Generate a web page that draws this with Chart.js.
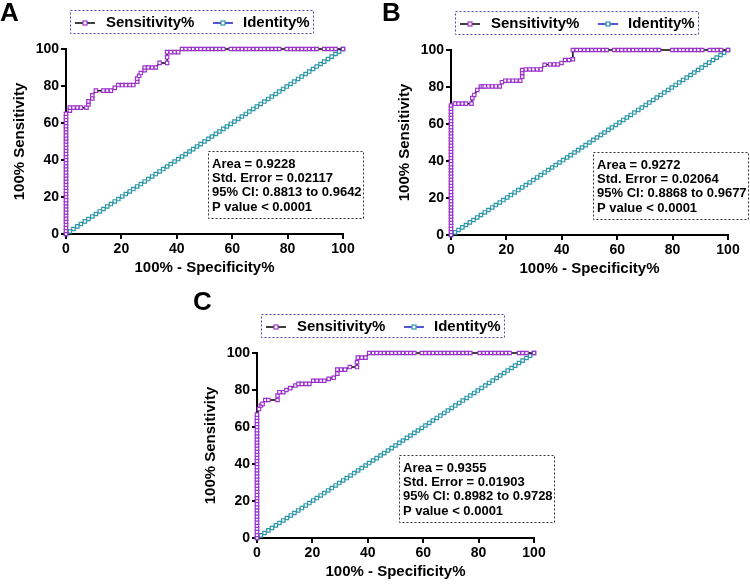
<!DOCTYPE html>
<html>
<head>
<meta charset="utf-8">
<script src="https://cdn.jsdelivr.net/npm/chart.js@4.4.0/dist/chart.umd.min.js"></script>
<style>
    html, body { margin: 0; padding: 0; background: #fff; overflow: hidden; width: 750px; height: 584px; position: relative; }
    canvas { position: absolute; }
</style>
</head>
<body>
<canvas id="chartA" width="375" height="300" style="left:-10px; top:-20px;"></canvas>
<canvas id="chartB" width="375" height="300" style="left:375px; top:-19px;"></canvas>
<canvas id="chartC" width="375" height="300" style="left:181px; top:284px;"></canvas>
<script>
// ---- data ----
const tickValues = [0, 20, 40, 60, 80, 100];

// identity line (x = y) points
const identityPct = [0,1.4,2.7,4.1,5.4,6.8,8.1,9.5,10.8,12.2,13.5,14.9,16.2,17.6,18.9,20.3,21.6,23,24.3,25.7,
    27,28.4,29.7,31.1,32.4,33.8,35.1,36.5,37.8,39.2,40.5,41.9,43.2,44.6,45.9,47.3,48.6,50,51.4,52.7,
    54.1,55.4,56.8,58.1,59.5,60.8,62.2,63.5,64.9,66.2,67.6,68.9,70.3,71.6,73,74.3,75.7,77,78.4,79.7,
    81.1,82.4,83.8,85.1,86.5,87.8,89.2,90.5,91.9,93.2,94.6,95.9,97.3,98.6,100];

// A: sensitivity at 0% (vertical run), middle steps, then 1-spec values at 100% sensitivity
const colSensA = [0,1.7,3.3,5,6.7,8.3,10,11.7,13.3,15,16.7,18.3,20,21.7,23.3,25,26.7,28.3,30,31.7,
    33.3,35,36.7,38.3,40,41.7,43.3,45,46.7,48.3,50,51.7,53.3,55,56.7,58.3,60,61.7,63.3,65];
const fprA  = [1.4,1.4,2.7,4.1,5.4, 7.4,8.1,8.1,9.5,9.5,10.8, 13.5,14.9,16.2, 17.6,18.9, 20.3,21.6,23,24.3,
    25.7,25.7,26.4,27,28.4,28.4, 29.7,31.1,32.4, 33.8, 36.5,36.5,36.5, 37.8,39.2,40.5];
const sensA = [66.7,68.3,68.3,68.3,68.3, 68.3,70,71.7,73.3,75,77.5, 77.5,77.5,77.5, 79,80.5, 80.5,80.5,80.5,80.5,
    82.3,84,85.5,87,88.5,90, 90,90,90, 92.5, 92.5,95.5,98.3, 98.3,98.3,98.3];
const fullFprA = [41.9,43.2,44.6,45.9,47.3,48.6,50,51.4,52.7,54.1,55.4,56.8,
    59.5,60.8,62.2,63.5,64.9,66.2,67.6,68.9,70.3,71.6,73,74.3,75.7,77,
    79.7,81.1,82.4,83.8,85.1,86.5,87.8,89.2,90.5, 93.2,94.6,95.9,97.3, 100];

// B
const colSensB = [0,1.7,3.3,5,6.7,8.3,10,11.7,13.3,15,16.7,18.3,20,21.7,23.3,25,26.7,28.3,30,31.7,
    33.3,35,36.7,38.3,40,41.7,43.3,45,46.7,48.3,50,51.7,53.3,55,56.7,58.3,60,61.7,63.3,65,66.7,68.3,70];
const fprB  = [1.4,2.7,4.1,5.4, 7.4,7.7,8.4,9.5,10.8, 11.5,12.2,13.5,14.9,16.2,17.6, 18.4,19.6,20.9,22.3,23.6,25,
    25.7,25.7,25.7,27,28.4,29.7,31.1,32.4, 33.8, 35.8,37.2,38.5,39.9,41.2,42.6, 44];
const sensB = [71,71,71,71, 71,74,75.7,78.4,80.3, 80.3,80.3,80.3,80.3,80.3,80.3, 82.6,83.4,83.4,83.4,83.4,83.4,
    85.6,87.7,89.2,89.5,89.5,89.5,89.5,89.5, 92, 92.2,92.2,92.2,93,94.6,94.6, 95];
const fullFprB = [44,45.4,46.7,48.1,49.4,50.8,52.2,53.5,54.9,56.2,
    58.9,60.3,61.6,63,64.3,65.7,67,68.4,69.7,71.1,72.4,73.8,75.1,
    79.9,81.2,82.6,83.9,85.3,86.6,88,89.3,90.7, 93.4,94.8,96.1,97.5, 100];

// C
const colSensC = [0,1.7,3.3,5,6.7,8.3,10,11.7,13.3,15,16.7,18.3,20,21.7,23.3,25,26.7,28.3,30,31.7,
    33.3,35,36.7,38.3,40,41.7,43.3,45,46.7,48.3,50,51.7,53.3,55,56.7,58.3,60,61.7,63.3,65,66.7];
const fprC  = [0.7,1.4,2,3,4.1, 7.4,7.4,8.1,9.5, 10.6,12,13.9,15,16.2,17.6,18.9, 20.3,21.6,23,24.3,
    25.9,27.7,29,29,30.4,31.8, 33.5,36.1,36.1,36.4,37.8,39.2];
const sensC = [69.7,71.6,72.5,74.6,74.6, 74.6,77,78.8,78.8, 80,81,82.4,83.3,83.3,83.3,83.3, 85,85,85,85,
    86,86.6,88.8,91,91,91, 92.4,92.4,95,97.5,97.5,97.5];
const fullFprC = [40.5,41.9,43.2,44.6,45.9,47.3,48.6,50,51.4,52.7,54.1,55.4,56.8,
    59.5,60.8,62.2,63.5,64.9,66.2,67.6,68.9,70.3,71.6,73,74.3,75.7,77,
    80.4,81.8,83.1,84.5,85.8,87.2,88.5,89.9,91.2, 94.6,95.9,97.3, 100];

const statsA = ["Area = 0.9228", "Std. Error = 0.02117", "95% CI: 0.8813 to 0.9642", "P value < 0.0001"];
const statsB = ["Area = 0.9272", "Std. Error = 0.02064", "95% CI: 0.8868 to 0.9677", "P value < 0.0001"];
const statsC = ["Area = 0.9355", "Std. Error = 0.01903", "95% CI: 0.8982 to 0.9728", "P value < 0.0001"];

// ---- styling ----
const FONT = "'Liberation Sans', Arial, sans-serif";
const PURPLE = "#9b33cc";
const TEAL = "#2c97a8";
const BLUE = "#1c1cc8";

function buildRoc(col, fpr, sens, full) {
    const pts = col.map(y => ({ x: 0, y: y }));
    fpr.forEach((x, i) => pts.push({ x: x, y: sens[i] }));
    full.forEach(x => pts.push({ x: x, y: 100 }));
    return pts;
}

function drawSquare(ctx, x, y, color) {
    ctx.fillStyle = "#fff";
    ctx.fillRect(x - 2, y - 2, 4, 4);
    ctx.strokeStyle = color;
    ctx.lineWidth = 1.2;
    ctx.strokeRect(x - 2, y - 2, 4, 4);
}

// legend box, stats box and panel letter
const panelDecor = {
    id: "panelDecor",
    afterDraw(chart, args, opts) {
        const ctx = chart.ctx;
        ctx.save();

        ctx.fillStyle = "#000";
        ctx.font = `bold 26px ${FONT}`;
        ctx.textAlign = "left";
        ctx.textBaseline = "alphabetic";
        ctx.fillText(opts.letter, opts.letterX, opts.letterY);

        // legend
        ctx.setLineDash([2, 2]);
        ctx.lineWidth = 1;
        ctx.strokeStyle = "#4a4ab8";
        ctx.strokeRect(80.5, 30.5, 243, 23);
        ctx.setLineDash([]);

        const ly = 43;
        ctx.lineWidth = 1.5;
        ctx.strokeStyle = "#000";
        ctx.beginPath(); ctx.moveTo(85, ly); ctx.lineTo(105, ly); ctx.stroke();
        drawSquare(ctx, 95, ly, PURPLE);
        ctx.lineWidth = 1.5;
        ctx.strokeStyle = BLUE;
        ctx.beginPath(); ctx.moveTo(223, ly); ctx.lineTo(243, ly); ctx.stroke();
        drawSquare(ctx, 233, ly, TEAL);

        ctx.fillStyle = "#000";
        ctx.font = `bold 15px ${FONT}`;
        ctx.textBaseline = "middle";
        ctx.fillText("Sensitivity%", 116, ly);
        ctx.fillText("Identity%", 253, ly);

        // stats box
        ctx.setLineDash([2, 2]);
        ctx.lineWidth = 1;
        ctx.strokeStyle = "#333";
        ctx.strokeRect(218.5, 171.5, 155, 67);
        ctx.setLineDash([]);
        ctx.font = `bold 13px ${FONT}`;
        opts.stats.forEach((line, i) => ctx.fillText(line, 222, 184 + i * 14.4));

        ctx.restore();
    }
};

function axisOptions(title, isX) {
    return {
        type: "linear",
        min: 0,
        max: 100,
        afterBuildTicks: scale => { scale.ticks = tickValues.map(v => ({ value: v })); },
        afterFit: scale => { if (isX) scale.height = 46; else scale.width = 66; },
        ticks: { color: "#000", font: { family: FONT, size: 14, weight: "bold" }, padding: 2 },
        grid: { display: true, drawOnChartArea: false, drawTicks: true, tickLength: 5, color: "#000", lineWidth: 2 },
        border: { display: true, color: "#000", width: 2 },
        title: {
            display: true,
            text: title,
            color: "#000",
            font: { family: FONT, size: 15, weight: "bold" },
            padding: isX ? { top: 0, bottom: 3 } : { top: 11, bottom: 0 }
        }
    };
}

function makePanel(id, roc, stats, letter, letterX, letterY) {
    return new Chart(document.getElementById(id), {
        type: "scatter",
        data: {
            datasets: [
                {
                    label: "Sensitivity%",
                    data: roc,
                    showLine: true,
                    borderColor: "#000",
                    borderWidth: 1.5,
                    tension: 0,
                    pointStyle: "rect",
                    pointRadius: 2.4,
                    pointBorderWidth: 1.2,
                    pointBorderColor: PURPLE,
                    pointBackgroundColor: "#fff",
                    clip: false
                },
                {
                    label: "Identity%",
                    data: identityPct.map(v => ({ x: v, y: v })),
                    showLine: true,
                    borderColor: BLUE,
                    borderWidth: 1.5,
                    tension: 0,
                    pointStyle: "rect",
                    pointRadius: 2.4,
                    pointBorderWidth: 1.2,
                    pointBorderColor: TEAL,
                    pointBackgroundColor: "#fff",
                    clip: false
                }
            ]
        },
        options: {
            responsive: false,
            animation: false,
            events: [],
            layout: { padding: { left: 10, top: 69, right: 22, bottom: 0 } },
            plugins: {
                legend: { display: false },
                tooltip: { enabled: false },
                panelDecor: { letter: letter, letterX: letterX, letterY: letterY, stats: stats }
            },
            scales: {
                x: axisOptions("100% - Specificity%", true),
                y: axisOptions("100% Sensitivity", false)
            }
        },
        plugins: [panelDecor]
    });
}

makePanel("chartA", buildRoc(colSensA, fprA, sensA, fullFprA), statsA, "A", 10, 41);
makePanel("chartB", buildRoc(colSensB, fprB, sensB, fullFprB), statsB, "B", 7, 40);
makePanel("chartC", buildRoc(colSensC, fprC, sensC, fullFprC), statsC, "C", 12, 26);
</script>
</body>
</html>
